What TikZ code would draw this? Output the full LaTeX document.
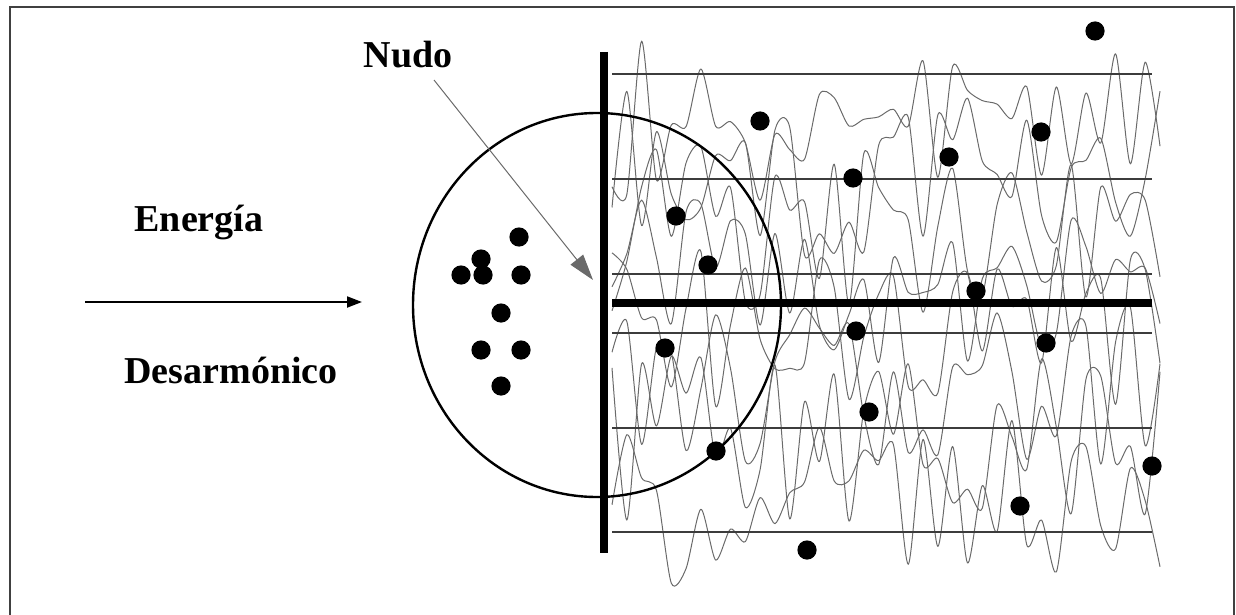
\documentclass[tikz,border=0pt]{standalone}
\usepackage{fontspec}
\setmainfont{Liberation Serif}
\usetikzlibrary{arrows.meta, positioning, calc}
\definecolor{chainGray}{HTML}{6A6A6A}
\definecolor{wallGray}{HTML}{3C3C3C}

\begin{document}
\begin{tikzpicture}[x=0.5pt, y=-0.5pt,
    lbl/.style={font=\fontsize{19}{22}\selectfont\bfseries, inner sep=0pt},
    bead/.style={fill=black},
    chain/.style={chainGray, line width=0.5pt, line join=round},
    wall/.style={wallGray, line width=1pt},
    rarr/.style={-{Triangle[length=7.5pt, width=5.5pt]}, line width=1pt},
    karr/.style={-{Triangle[length=13pt, width=8pt]}, chainGray, line width=0.5pt}
  ]
  \useasboundingbox (0,0) rectangle (1236,615);
  \draw[line width=1pt, black!75] (10,615) -- (10,7) -- (1234,7) -- (1234,615);

  % labels
  \node[lbl] (nudo) at (408,55) {Nudo};
  \node[lbl] (energia) at (199,222) {Energía};
  \node[lbl] (desarm) at (231,370) {Desarmónico};
  \coordinate (ein) at (85,302);
  \coordinate (eout) at (362,302);
  \coordinate (ktail) at (434,80);
  \coordinate (knot) at (593,280);
  \coordinate (blob) at (597,305);

  % polymer chains
  \pgfmathsetseed{4213}
  \foreach \base in {120,175,230,285,330,385,440,500}{
    \draw[chain] plot[smooth, tension=0.45, samples=38, domain=612:1160, variable=\t]
      (\t, {\base+85*rand});
  }

  % grid lines
  \foreach \yy in {74,179,274,333,428,532}
    \draw[wall] (612,\yy) -- (1152,\yy);
  \draw[line width=4pt] (612,303) -- (1152,303);
  \draw[line width=4pt] (604,52) -- (604,553);

  % blob
  \draw[line width=1.2pt] (blob) ellipse [x radius=92pt, y radius=96pt];
  \foreach \p in {(519,237),(481,259),(461,275),(483,275),(521,275),
                  (501,313),(481,350),(521,350),(501,386)}
    \fill[bead] \p circle[radius=4.8pt];

  % beads
  \foreach \p in {(1095,31),(760,121),(1041,132),(949,157),(853,178),(676,216),
                  (708,265),(976,291),(665,348),(856,331),(1046,343),(869,412),
                  (716,451),(1152,466),(1020,506),(807,550)}
    \fill[bead] \p circle[radius=4.8pt];

  \draw[rarr] (ein) -- (eout);
  \draw[karr] (ktail) -- (knot);
\end{tikzpicture}
\end{document}
